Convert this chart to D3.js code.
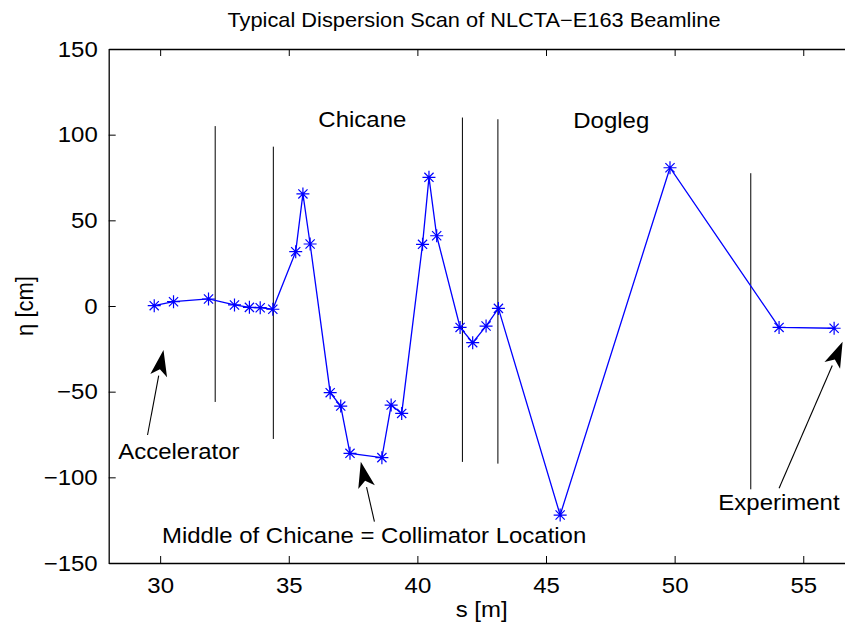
<!DOCTYPE html>
<html>
<head>
<meta charset="utf-8">
<script src="https://cdn.jsdelivr.net/npm/d3@7"></script>
<style>
  body { margin: 0; background: #fff; }
  svg text { font-family: "Liberation Sans", Arial, sans-serif; fill: #000; }
</style>
</head>
<body>
<div id="chart"></div>
<script>
// dispersion scan data
var sPos = [29.77, 30.52, 31.88, 32.89, 33.47, 33.89, 34.38, 35.27, 35.55, 35.83,
            36.61, 37.02, 37.38, 38.62, 38.98, 39.39, 40.2, 40.45, 40.75, 41.66,
            42.15, 42.67, 43.15, 45.55, 49.82, 54.06, 56.2];
var eta = [0.2, 2.5, 4.1, 0.6, -0.8, -1, -1.9, 31.7, 65.4, 36.2,
           -50.6, -58.4, -86, -88.5, -57.8, -62.7, 36, 75.1, 41, -12.5,
           -21.4, -11.7, -1.4, -122, 80.7, -12.5, -13];

// vertical marker lines (section boundaries)
var markS = [32.14, 34.4, 41.75, 43.13, 52.96];
var markTop = [105, 93, 110, 109, 77.5];
var markBottom = [-56, -77.6, -91, -92, -107];

var xTicks = [30, 35, 40, 45, 50, 55];
var yTicks = [-150, -100, -50, 0, 50, 100, 150];

// annotation texts and arrows
var noteText = ["Chicane", "Dogleg", "Accelerator", "Middle of Chicane = Collimator Location", "Experiment"];
var noteS = [36.15, 46.06, 28.37, 30.07, 51.7];
var noteEta = [104.3, 103.9, -89.3, -138.4, -119];
var arrowFromS = [29.51, 38.33, 54.06];
var arrowFromEta = [-75.3, -125.9, -106.4];
var arrowToS = [30.13, 37.8, 56.53];
var arrowToEta = [-25.7, -90.9, -20.8];

var margin = {top: 49, left: 108.7},
    width = 746,
    height = 514,
    fontSize = 22,
    sx = 1.09;   // the original figure is a bit wider than tall

var x = d3.scaleLinear().domain([28, 57]).range([0, width]);
var y = d3.scaleLinear().domain([-150, 150]).range([height, 0]);

var svg = d3.select("#chart").append("svg")
    .attr("width", 845)
    .attr("height", 626);

var canvas = svg.append("g")
    .attr("transform", "translate(" + margin.left + "," + margin.top + ")");

// axes with inward ticks
canvas.append("g")
    .attr("class", "xaxis")
    .attr("transform", "translate(0," + height + ")")
    .call(d3.axisBottom(x).tickValues(xTicks).tickSizeInner(-7).tickSizeOuter(0).tickPadding(14));
canvas.append("g")
    .call(d3.axisTop(x).tickValues(xTicks).tickSizeInner(-7).tickSizeOuter(0).tickFormat(""));
canvas.append("g")
    .attr("class", "yaxis")
    .call(d3.axisLeft(y).tickValues(yTicks).tickSizeInner(-7).tickSizeOuter(0).tickPadding(11)
      .tickFormat(function (d) { return d < 0 ? "\u2212" + Math.abs(d) : d; }));
canvas.append("g")
    .attr("transform", "translate(" + width + ",0)")
    .call(d3.axisRight(y).tickValues(yTicks).tickSizeInner(-7).tickSizeOuter(0).tickFormat(""));

canvas.selectAll(".domain").attr("stroke", "#000").attr("stroke-width", 1.3);
canvas.selectAll(".tick line").attr("stroke", "#000").attr("stroke-width", 1);
canvas.selectAll(".tick text")
    .style("font-family", "'Liberation Sans', Arial, sans-serif")
    .style("font-size", fontSize + "px")
    .attr("fill", "#000")
    .attr("transform", "scale(" + sx + ",1)");
canvas.selectAll(".yaxis .tick text").attr("x", -11 / sx);

// vertical section lines
canvas.selectAll("line.mark")
  .data(markS)
  .enter()
    .append("line")
    .attr("class", "mark")
    .attr("x1", function (d) { return x(d); })
    .attr("x2", function (d) { return x(d); })
    .attr("y1", function (d, i) { return y(markTop[i]); })
    .attr("y2", function (d, i) { return y(markBottom[i]); })
    .attr("stroke", "#000")
    .attr("stroke-width", 1);

// data line
var pts = sPos.map(function (d, i) { return [d, eta[i]]; });
canvas.append("path")
    .datum(pts)
    .attr("fill", "none")
    .attr("stroke", "#0000ff")
    .attr("stroke-width", 1.3)
    .attr("d", d3.line()
      .x(function (d) { return x(d[0]); })
      .y(function (d) { return y(d[1]); }));

// asterisk markers
var r = 6.5, rd = 4.6;
var star = "M" + (-r) + ",0L" + r + ",0M0," + (-r) + "L0," + r +
           "M" + (-rd) + "," + (-rd) + "L" + rd + "," + rd +
           "M" + (-rd) + "," + rd + "L" + rd + "," + (-rd);
canvas.selectAll("path.star")
  .data(pts)
  .enter()
    .append("path")
    .attr("class", "star")
    .attr("d", star)
    .attr("transform", function (d) { return "translate(" + x(d[0]) + "," + y(d[1]) + ")"; })
    .attr("fill", "none")
    .attr("stroke", "#0000ff")
    .attr("stroke-width", 1.2);

// annotation arrows
arrowFromS.forEach(function (s0, i) {
  var x0 = x(s0), y0 = y(arrowFromEta[i]),
      x1 = x(arrowToS[i]), y1 = y(arrowToEta[i]);
  var ang = Math.atan2(y1 - y0, x1 - x0),
      len = 26, hw = 8.5;
  var bx = x1 - len * Math.cos(ang), by = y1 - len * Math.sin(ang);
  var nx = -Math.sin(ang), ny = Math.cos(ang);
  canvas.append("line")
      .attr("x1", x0).attr("y1", y0)
      .attr("x2", bx).attr("y2", by)
      .attr("stroke", "#000")
      .attr("stroke-width", 1.1);
  canvas.append("path")
      .attr("d", "M" + x1 + "," + y1 +
                 "L" + (bx + hw * nx) + "," + (by + hw * ny) +
                 "L" + (x1 - 0.75 * len * Math.cos(ang)) + "," + (y1 - 0.75 * len * Math.sin(ang)) +
                 "L" + (bx - hw * nx) + "," + (by - hw * ny) + "Z")
      .attr("fill", "#000");
});

// annotation texts
canvas.selectAll("text.note")
  .data(noteText)
  .enter()
    .append("text")
    .attr("class", "note")
    .attr("transform", function (d, i) {
      return "translate(" + x(noteS[i]) + "," + y(noteEta[i]) + ") scale(" + sx + ",1)";
    })
    .style("font-size", fontSize + "px")
    .text(function (d) { return d; });

// title and axis labels
svg.append("text")
    .attr("transform", "translate(474,27) scale(" + sx + ",1)")
    .attr("text-anchor", "middle")
    .style("font-size", "20px")
    .text("Typical Dispersion Scan of NLCTA\u2212E163 Beamline");

svg.append("text")
    .attr("transform", "translate(" + (margin.left + width / 2) + ",617) scale(" + sx + ",1)")
    .attr("text-anchor", "middle")
    .style("font-size", fontSize + "px")
    .text("s [m]");

svg.append("text")
    .attr("transform", "translate(33," + (margin.top + height / 2) + ") scale(" + sx + ",1) rotate(-90)")
    .attr("text-anchor", "middle")
    .style("font-size", fontSize + "px")
    .text("\u03b7 [cm]");
</script>
</body>
</html>
